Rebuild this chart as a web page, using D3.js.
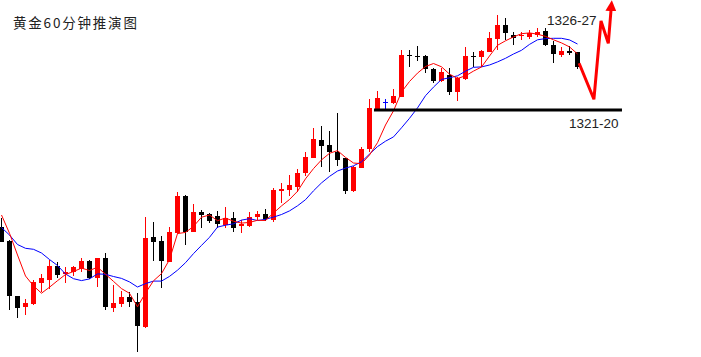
<!DOCTYPE html>
<html>
<head>
<meta charset="utf-8">
<script src="https://cdn.jsdelivr.net/npm/d3@7"></script>
<style>
  html, body { margin: 0; padding: 0; background: #fff; }
  svg { display: block; }
</style>
</head>
<body>
<svg id="chart" width="701" height="357"></svg>
<script>
const title = "黄金60分钟推演图";

// hourly candles (price)
const opens  = [1309.33,1307.9,1302.4,1301.33,1301.6,1303.7,1304.0,1305.4,1304.63,1304.77,
                1305.1,1305.9,1304.23,1306.17,1301.23,1301.63,1302.27,1301.83,1299.33,1308.33,
                1307.9,1305.83,1308.67,1312.4,1308.83,1310.83,1310.57,1310.43,1309.5,1310.17,
                1309.4,1309.4,1310.27,1310.57,1310.0,1312.9,1313.0,1313.33,1314.67,1316.23,
                1318.0,1317.5,1316.83,1316.17,1312.93,1315.23,1317.1,1321.1,1321.77,1321.73,
                1322.33,1326.47,1326.43,1326.4,1325.07,1323.93,1324.5,1322.83,1324.1,1326.37,
                1326.27,1326.83,1328.07,1329.5,1328.5,1328.43,1328.33,1328.5,1328.9,1327.5,
                1326.5,1326.9,1326.77];
const highs  = [1310.2,1307.95,1302.4,1302.1,1304.0,1304.6,1306.0,1305.8,1305.3,1305.43,
                1306.23,1306.0,1306.17,1306.67,1303.5,1302.9,1302.77,1302.73,1310.33,1309.83,
                1308.4,1309.33,1312.83,1312.45,1311.6,1311.0,1310.7,1310.9,1311.33,1310.77,
                1310.0,1310.83,1310.93,1311.1,1313.17,1313.67,1314.5,1315.07,1316.83,1319.17,
                1319.4,1318.9,1320.73,1316.2,1315.43,1317.33,1322.07,1322.9,1322.07,1323.1,
                1327.0,1327.0,1327.4,1326.5,1325.17,1325.17,1325.2,1324.3,1327.33,1326.77,
                1326.95,1328.83,1330.5,1330.17,1328.83,1328.8,1329.0,1329.17,1329.15,1327.93,
                1327.33,1327.43,1326.83];
const lows   = [1307.8,1301.0,1300.23,1300.5,1301.55,1302.8,1303.1,1304.17,1303.73,1304.43,
                1304.77,1304.1,1303.33,1301.0,1300.77,1301.33,1301.33,1296.83,1299.23,1305.9,
                1303.17,1305.77,1308.6,1307.5,1308.77,1309.23,1309.67,1309.23,1309.23,1308.77,
                1308.73,1309.27,1310.0,1309.93,1309.83,1311.73,1312.4,1312.83,1314.4,1316.17,
                1315.3,1314.83,1315.4,1312.57,1312.83,1315.23,1316.83,1321.0,1321.07,1321.63,
                1322.3,1325.27,1325.93,1324.73,1323.67,1323.83,1322.5,1321.9,1324.0,1325.33,
                1325.33,1326.8,1327.0,1328.0,1327.5,1328.0,1328.07,1328.33,1327.4,1325.73,
                1326.33,1326.5,1325.1];
const closes = [1307.83,1302.43,1301.23,1301.73,1303.83,1304.2,1305.4,1304.5,1304.83,1305.3,
                1305.9,1304.2,1306.17,1301.33,1301.7,1302.3,1301.83,1299.43,1308.23,1307.83,
                1305.9,1308.83,1312.4,1308.83,1310.83,1310.5,1309.93,1309.57,1310.17,1309.23,
                1309.57,1310.27,1310.6,1310.07,1313.0,1313.1,1313.5,1314.67,1316.33,1318.1,
                1317.43,1316.83,1316.0,1312.93,1315.33,1317.07,1321.17,1322.17,1321.77,1322.4,
                1326.5,1326.4,1326.37,1325.07,1323.93,1324.83,1322.75,1324.17,1326.4,1326.3,
                1326.9,1328.23,1329.5,1328.67,1328.23,1328.5,1328.67,1328.83,1327.55,1326.57,
                1326.93,1326.67,1325.33];

// moving averages
const ma5  = [1310.5,1308.67,1306.5,1304.4,1303.41,1302.68,1303.28,1303.93,1304.55,1304.85,
              1305.19,1304.95,1305.28,1304.58,1303.86,1303.14,1302.67,1301.32,1302.7,1303.92,
              1304.64,1306.04,1308.64,1308.76,1309.36,1310.28,1310.5,1309.93,1310.2,1309.88,
              1309.69,1309.76,1309.97,1309.95,1310.7,1311.41,1312.05,1312.87,1314.12,1315.14,
              1316.01,1316.67,1316.94,1316.26,1315.7,1315.63,1316.5,1317.73,1319.5,1320.92,
              1322.8,1323.85,1324.69,1325.35,1325.65,1325.32,1324.59,1324.15,1324.42,1324.89,
              1325.3,1326.4,1327.47,1327.92,1328.31,1328.63,1328.71,1328.58,1328.36,1328.02,
              1327.71,1327.31,1326.61];
const ma10 = [1309.25,1308.5,1307.55,1307.17,1307.07,1306.7,1306.05,1305.45,1304.6,1304.13,
              1303.94,1304.11,1304.61,1304.57,1304.35,1304.16,1303.81,1303.3,1303.64,1303.89,
              1303.89,1304.36,1304.98,1305.73,1306.64,1307.46,1308.27,1309.29,1309.48,1309.62,
              1309.99,1310.13,1309.95,1310.07,1310.29,1310.55,1310.91,1311.42,1312.03,1312.92,
              1313.71,1314.36,1314.9,1315.19,1315.42,1315.82,1316.59,1317.34,1317.88,1318.31,
              1319.22,1320.17,1321.21,1322.43,1323.29,1324.06,1324.22,1324.42,1324.88,1325.27,
              1325.31,1325.5,1325.81,1326.17,1326.6,1326.97,1327.56,1328.02,1328.14,1328.17,
              1328.17,1328.01,1327.6];

// forecast path (bar index, price)
const forecastIdx   = [72.2, 74.05, 74.94, 75.85, 76.19];
const forecastPrice = [1325.67, 1322.07, 1329.9, 1327.67, 1331.0];

// support level
const supportPrice = 1321;
const supportFrom = 46.56, supportTo = 77.56;
const labelHigh = "1326-27";
const labelLow  = "1321-20";

const svg = d3.select("#chart");
const x = d3.scaleLinear().domain([0, 72]).range([1.5, 577.5]);
const y = d3.scaleLinear().domain([1332, 1296]).range([0, 360]);

const candles = opens.map((o, i) => ({i, o, h: highs[i], l: lows[i], c: closes[i]}));
const color = d => d.c > d.o ? "#ff0000" : (d.c < d.o ? "#000000" : "#0000ff");

const g = svg.append("g");
g.selectAll("line.wick").data(candles).join("line")
  .attr("x1", d => x(d.i)).attr("x2", d => x(d.i))
  .attr("y1", d => Math.round(y(d.h))).attr("y2", d => Math.round(y(d.l)))
  .attr("stroke", color).attr("stroke-width", 1)
  .attr("shape-rendering", "crispEdges");

g.selectAll("rect.body").data(candles).join("rect")
  .attr("x", d => x(d.i) - 2.5)
  .attr("width", 5)
  .attr("y", d => Math.round(y(Math.max(d.o, d.c))))
  .attr("height", d => Math.max(1, Math.round(y(Math.min(d.o, d.c))) - Math.round(y(Math.max(d.o, d.c)))))
  .attr("fill", color)
  .attr("shape-rendering", "crispEdges");

const maLine = d3.line().x((d, i) => x(i)).y(d => y(d));
svg.append("path").attr("d", maLine(ma10)).attr("fill", "none")
  .attr("stroke", "#0000ff").attr("stroke-width", 1);
svg.append("path").attr("d", maLine(ma5)).attr("fill", "none")
  .attr("stroke", "#ff0000").attr("stroke-width", 1);

// support line
svg.append("line")
  .attr("x1", x(supportFrom)).attr("x2", x(supportTo))
  .attr("y1", y(supportPrice)).attr("y2", y(supportPrice))
  .attr("stroke", "#000").attr("stroke-width", 3);

// forecast arrow
svg.append("defs").append("marker")
  .attr("id", "arrow").attr("markerUnits", "userSpaceOnUse")
  .attr("viewBox", "0 0 10 10").attr("refX", 1).attr("refY", 5)
  .attr("markerWidth", 11).attr("markerHeight", 11)
  .attr("orient", "auto")
  .append("path").attr("d", "M0,0 L10,5 L0,10 Z").attr("fill", "#ff0000");

const fpts = forecastIdx.map((v, i) => [x(v), y(forecastPrice[i])]);
svg.append("path").attr("d", d3.line()(fpts)).attr("fill", "none")
  .attr("stroke", "#ff0000").attr("stroke-width", 3)
  .attr("stroke-linejoin", "miter").attr("marker-end", "url(#arrow)");

// labels
svg.append("text").attr("x", 547).attr("y", 25).text(labelHigh)
  .attr("font-family", "Liberation Sans, Arial, sans-serif").attr("font-size", 13.5).attr("fill", "#222");
svg.append("text").attr("x", 569).attr("y", 127.5).text(labelLow)
  .attr("font-family", "Liberation Sans, Arial, sans-serif").attr("font-size", 13.5).attr("fill", "#222");

svg.append("text").attr("x", 13).attr("y", 28).text(title)
  .attr("font-family", "Noto Sans CJK SC, sans-serif").attr("font-size", 13.5)
  .attr("letter-spacing", 1.8).attr("fill", "#222");
</script>
</body>
</html>
